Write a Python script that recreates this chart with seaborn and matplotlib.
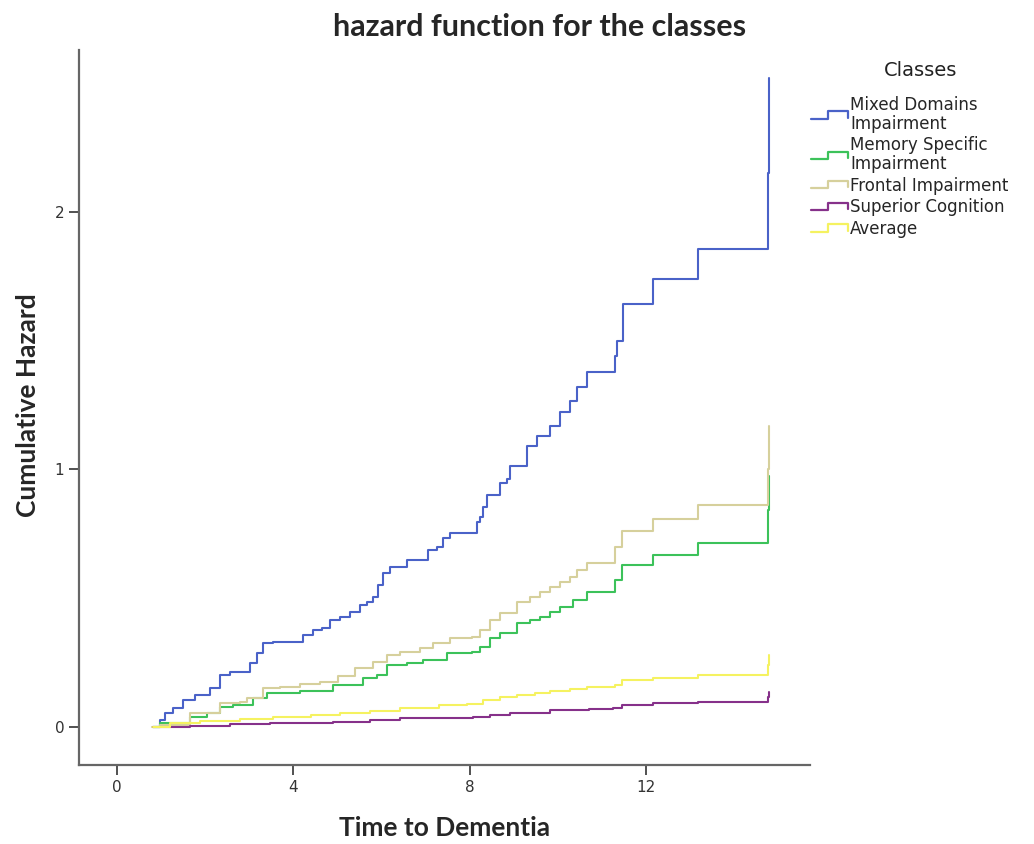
import pandas as pd
import matplotlib.pyplot as plt
import seaborn as sns
from matplotlib.lines import Line2D
from matplotlib.legend_handler import HandlerBase

# Class names and colours (SPSS-like palette)
classes = ['Mixed Domains\nImpairment', 'Memory Specific\nImpairment',
           'Frontal Impairment', 'Superior Cognition', 'Average']
colors = ['#4a62c8', '#3cc25a', '#d6d09c', '#86318a', '#f5f260']

# Step knots (time, cumulative hazard)
mixed_t = [0.82, 0.98, 1.09, 1.27, 1.5, 1.77, 2.11, 2.34, 2.56, 3.02, 3.17, 3.31, 3.54,
           4.22, 4.44, 4.65, 4.83, 5.06, 5.28, 5.51, 5.67, 5.8, 5.92, 6.03, 6.19, 6.58,
           7.05, 7.26, 7.39, 7.55, 8.16, 8.23, 8.3, 8.39, 8.68, 8.84, 8.91, 9.3, 9.52,
           9.82, 10.05, 10.27, 10.43, 10.66, 11.29, 11.34, 11.47, 12.15, 13.17, 14.76, 14.78]
mixed_h = [0.0, 0.027, 0.054, 0.074, 0.105, 0.125, 0.152, 0.202, 0.214, 0.249, 0.288,
           0.327, 0.331, 0.358, 0.377, 0.385, 0.416, 0.428, 0.447, 0.475, 0.486, 0.506,
           0.553, 0.599, 0.623, 0.65, 0.689, 0.70, 0.735, 0.755, 0.794, 0.817, 0.856,
           0.899, 0.949, 0.961, 1.012, 1.09, 1.128, 1.167, 1.222, 1.265, 1.319, 1.377,
           1.44, 1.498, 1.642, 1.739, 1.856, 2.15, 2.52]

memory_t = [0.82, 0.98, 1.66, 2.04, 2.34, 2.63, 3.08, 3.4, 4.15, 4.9, 5.58, 5.9, 6.12,
            6.58, 6.94, 7.48, 8.05, 8.23, 8.46, 8.68, 9.07, 9.37, 9.59, 9.82, 10.05,
            10.34, 10.66, 11.29, 11.45, 12.15, 13.17, 14.76, 14.78]
memory_h = [0.0, 0.016, 0.039, 0.054, 0.078, 0.086, 0.113, 0.132, 0.14, 0.163, 0.19,
            0.202, 0.241, 0.249, 0.26, 0.288, 0.292, 0.311, 0.346, 0.366, 0.405, 0.416,
            0.428, 0.447, 0.467, 0.494, 0.525, 0.572, 0.63, 0.669, 0.716, 0.844, 0.973]

frontal_t = [0.79, 0.98, 1.66, 2.34, 2.79, 2.95, 3.31, 3.7, 4.15, 4.6, 5.0, 5.4, 5.8,
             6.12, 6.42, 6.87, 7.17, 7.55, 8.05, 8.23, 8.46, 8.68, 9.07, 9.37, 9.59,
             9.82, 10.05, 10.27, 10.43, 10.66, 11.29, 11.45, 12.15, 13.17, 14.76, 14.78]
frontal_h = [0.0, 0.008, 0.054, 0.093, 0.097, 0.113, 0.152, 0.156, 0.167, 0.175, 0.198,
             0.23, 0.253, 0.28, 0.29, 0.307, 0.327, 0.346, 0.35, 0.377, 0.416, 0.444,
             0.486, 0.506, 0.525, 0.545, 0.564, 0.584, 0.611, 0.638, 0.697, 0.759,
             0.809, 0.86, 1.0, 1.17]

superior_t = [0.82, 1.66, 2.56, 3.47, 4.9, 5.74, 6.42, 8.07, 8.46, 8.9, 9.82, 10.7,
              11.25, 11.45, 12.15, 13.17, 14.76, 14.78]
superior_h = [0.0, 0.004, 0.012, 0.016, 0.019, 0.027, 0.035, 0.039, 0.047, 0.054,
              0.066, 0.07, 0.074, 0.086, 0.093, 0.097, 0.117, 0.136]

average_t = [0.82, 1.2, 1.88, 2.8, 3.54, 4.4, 5.06, 5.74, 6.42, 7.3, 7.94, 8.3, 8.68,
             9.07, 9.48, 9.82, 10.27, 10.66, 11.29, 11.45, 12.15, 13.17, 14.76, 14.78]
average_h = [0.0, 0.016, 0.023, 0.031, 0.039, 0.047, 0.054, 0.062, 0.074, 0.086, 0.09,
             0.105, 0.117, 0.125, 0.132, 0.14, 0.148, 0.156, 0.163, 0.183, 0.191,
             0.202, 0.24, 0.28]

series = [(mixed_t, mixed_h), (memory_t, memory_h), (frontal_t, frontal_h),
          (superior_t, superior_h), (average_t, average_h)]

# Long-format table for seaborn
frames = []
for name, (t, h) in zip(classes, series):
    frames.append(pd.DataFrame({'time': t, 'hazard': h, 'cls': name}))
df = pd.concat(frames, ignore_index=True)

sns.set_style('ticks')
plt.rcParams['font.family'] = ['DejaVu Sans']
heading = ['Lato', 'DejaVu Sans']

fig = plt.figure(figsize=(10.34, 8.44), dpi=100)
ax = fig.add_axes([0.0764, 0.0936, 0.7066, 0.8474])

sns.lineplot(data=df, x='time', y='hazard', hue='cls', hue_order=classes,
             palette=colors, estimator=None, sort=False, drawstyle='steps-post',
             linewidth=1.5, ax=ax, legend=False)

ax.set_xlim(-0.86, 15.7)
ax.set_ylim(-0.148, 2.63)
ax.set_xticks([0, 4, 8, 12])
ax.set_yticks([0, 1, 2])
ax.tick_params(axis='both', labelsize=11, colors='#333333', length=7, width=1.2)

for side in ['top', 'right']:
    ax.spines[side].set_visible(False)
for side in ['left', 'bottom']:
    ax.spines[side].set_color('#666666')
    ax.spines[side].set_linewidth(1.6)

ax.set_xlabel('Time to Dementia', fontsize=19, fontweight='bold', family=heading,
              va='center')
ax.set_ylabel('Cumulative Hazard', fontsize=19, fontweight='bold', family=heading,
              va='center')
ax.xaxis.set_label_coords(0.5, -0.088)
ax.yaxis.set_label_coords(-0.07, 0.503)
fig.text(0.522, 0.968, 'hazard function for the classes', ha='center', va='center',
         fontsize=22, fontweight='bold', family=heading)


# Step-shaped legend keys like SPSS
class StepHandler(HandlerBase):
    def create_artists(self, legend, orig_handle, xdescent, ydescent, width, height,
                       fontsize, trans):
        xs = [0, width * 0.45, width * 0.45, width, width]
        ys = [height * 0.2, height * 0.2, height * 0.85, height * 0.85, height * 0.3]
        line = Line2D([x - xdescent for x in xs], [y - ydescent for y in ys],
                      color=orig_handle.get_color(), linewidth=1.6, transform=trans)
        return [line]


fig.text(0.89, 1 - 70 / 844, 'Classes', ha='center', va='center', fontsize=14,
         color='#222222')
handles = [Line2D([0], [0], color=c) for c in colors]
leg = fig.legend(handles, classes, loc='upper left',
                 bbox_to_anchor=(0.77, 0.904), frameon=False, fontsize=12,
                 handler_map={Line2D: StepHandler()},
                 handlelength=2.2, handletextpad=0.15, labelspacing=0.22)
for txt in leg.get_texts():
    txt.set_linespacing(1.05)

plt.savefig('out.png', dpi=100)
